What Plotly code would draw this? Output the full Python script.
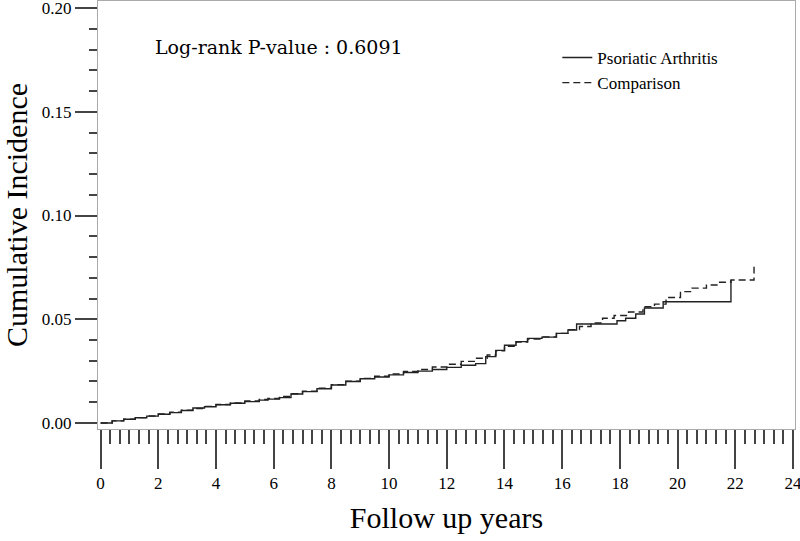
import plotly.graph_objects as go

# Cumulative incidence (step corners)
psa_years = [0.0, 0.4, 0.8, 1.2, 1.6, 2.0, 2.4, 2.8, 3.2, 3.6, 4.0, 4.5, 5.0, 5.5, 5.8,
             6.2, 6.6, 7.0, 7.5, 8.0, 8.5, 9.0, 9.5, 10.0, 10.5, 11.0, 11.5, 12.0, 12.5,
             13.0, 13.35, 13.7, 14.0, 14.4, 14.8, 15.3, 15.8, 16.2, 16.5, 17.9, 18.2,
             18.55, 18.85, 19.5, 21.85]
psa_inc = [0.0, 0.0010, 0.0018, 0.0025, 0.0033, 0.0042, 0.0050, 0.0060, 0.0072, 0.0078,
           0.0088, 0.0095, 0.0103, 0.0110, 0.0115, 0.0122, 0.0140, 0.0151, 0.0165, 0.0183,
           0.0200, 0.0213, 0.0222, 0.0232, 0.0243, 0.0250, 0.0258, 0.0268, 0.0278, 0.0286,
           0.0320, 0.0350, 0.0375, 0.0392, 0.0408, 0.0414, 0.0432, 0.0448, 0.0477, 0.0493,
           0.0505, 0.0525, 0.0554, 0.0584, 0.0689]

cmp_years = [0.0, 0.4, 0.8, 1.2, 1.6, 2.0, 2.4, 2.8, 3.2, 3.6, 4.0, 4.5, 5.0, 5.5, 5.8,
             6.2, 6.6, 7.0, 7.5, 8.0, 8.5, 9.0, 9.5, 10.0, 10.5, 11.0, 11.5, 12.0, 12.5,
             13.0, 13.4, 13.7, 14.0, 14.4, 14.8, 15.3, 15.8, 16.2, 16.6, 17.0, 17.4, 17.8,
             18.3, 18.8, 19.2, 19.6, 20.1, 20.5, 21.0, 21.4, 21.85, 22.65]
cmp_inc = [0.0, 0.0010, 0.0018, 0.0026, 0.0034, 0.0043, 0.0052, 0.0062, 0.0070, 0.0080,
           0.0089, 0.0097, 0.0106, 0.0113, 0.0118, 0.0128, 0.0141, 0.0153, 0.0168, 0.0185,
           0.0201, 0.0215, 0.0225, 0.0236, 0.0248, 0.0258, 0.0270, 0.0283, 0.0297, 0.0312,
           0.0328, 0.0348, 0.0370, 0.0390, 0.0405, 0.0415, 0.0432, 0.0450, 0.0465, 0.0482,
           0.0505, 0.0518, 0.0535, 0.0560, 0.0573, 0.0605, 0.0633, 0.0650, 0.0665, 0.0678,
           0.0689, 0.0753]

x_ticks = list(range(0, 25, 2))
y_ticks = [0.00, 0.05, 0.10, 0.15, 0.20]

FONT = "Liberation Serif, Times New Roman, serif"
WIDE = "DejaVu Serif, serif"
INK = "#222222"

fig = go.Figure()
fig.add_trace(go.Scatter(x=psa_years, y=psa_inc, mode="lines", line_shape="hv",
                         name="Psoriatic Arthritis",
                         line=dict(color=INK, width=1.4)))
fig.add_trace(go.Scatter(x=cmp_years, y=cmp_inc, mode="lines", line_shape="hv",
                         name="Comparison",
                         line=dict(color=INK, width=1.4, dash="7px,4px")))

fig.add_annotation(x=1.82, y=0.181, xref="x", yref="y", xanchor="left", yanchor="middle",
                   text="Log-rank P-value : 0.6091", showarrow=False,
                   font=dict(family=WIDE, size=19, color="black"))

fig.update_xaxes(range=[-0.09, 24.07], tickvals=x_ticks, ticks="outside", ticklen=39,
                 tickwidth=1.5, tickcolor="#444", showline=True, linecolor="#aaaaaa",
                 linewidth=1, mirror=True, showgrid=False, zeroline=False,
                 automargin=False, ticklabeloverflow="allow",
                 tickfont=dict(family=FONT, size=17, color="black"),
                 minor=dict(dtick=2 / 6, tick0=0, ticks="outside", ticklen=14,
                            tickwidth=1.5, tickcolor="#444", showgrid=False),
                 title=dict(text="Follow up years", standoff=14,
                            font=dict(family=FONT, size=30, color="black")))
fig.update_yaxes(range=[-0.0029, 0.2034], tickvals=y_ticks, tickformat=".2f",
                 ticks="outside", ticklen=22, tickwidth=1.5, tickcolor="#444",
                 showline=True, linecolor="#aaaaaa", linewidth=1, mirror=True,
                 showgrid=False, zeroline=False,
                 automargin=False, ticklabeloverflow="allow",
                 tickfont=dict(family=FONT, size=17, color="black"),
                 minor=dict(dtick=0.01, ticks="outside", ticklen=8, tickwidth=1.5,
                            tickcolor="#444", showgrid=False),
                 title=dict(text="Cumulative Incidence", standoff=6,
                            font=dict(family=FONT, size=30, color="black")))

fig.update_layout(width=800, height=541, plot_bgcolor="white", paper_bgcolor="white",
                  margin=dict(l=98, r=5, t=1, b=112),
                  legend=dict(x=0.659, y=0.909, xanchor="left", yanchor="top",
                              bgcolor="rgba(0,0,0,0)", tracegroupgap=0,
                              font=dict(family=FONT, size=17, color="black")))

# drop the browser's default 8px body margin so the figure sits at the page corner
fig.write_html("out.html", config={"displayModeBar": False},
               post_script="document.body.style.margin='0';")
